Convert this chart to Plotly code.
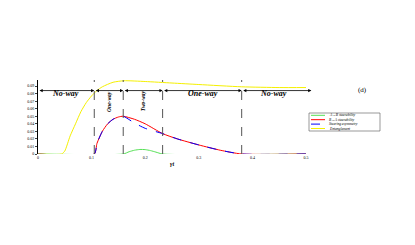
import plotly.graph_objects as go

# ---- data ----
x_ent = [0, 0.044, 0.05, 0.06, 0.07, 0.08, 0.09, 0.10, 0.11, 0.12, 0.14, 0.16, 0.20, 0.25, 0.30, 0.38, 0.45, 0.50]
y_ent = [0, 0, 0.004, 0.024, 0.040, 0.056, 0.068, 0.077, 0.084, 0.089, 0.095, 0.097, 0.096, 0.094, 0.092, 0.089, 0.088, 0.088]

x_ba = [0, 0.105, 0.11, 0.12, 0.13, 0.14, 0.15, 0.159, 0.18, 0.20, 0.2325, 0.26, 0.30, 0.34, 0.38, 0.50]
y_ba = [0, 0, 0.014, 0.030, 0.040, 0.046, 0.049, 0.050, 0.046, 0.040, 0.027, 0.020, 0.012, 0.005, 0.0, 0.0]

x_ab = [0, 0.159, 0.17, 0.18, 0.19, 0.20, 0.21, 0.22, 0.2325, 0.50]
y_ab = [0, 0, 0.003, 0.005, 0.006, 0.0058, 0.0045, 0.0025, 0, 0]

x_asym = [0, 0.105, 0.11, 0.12, 0.13, 0.14, 0.15, 0.159, 0.18, 0.20, 0.2325, 0.26, 0.30, 0.34, 0.38, 0.50]
y_asym = [0, 0, 0.014, 0.030, 0.040, 0.046, 0.049, 0.050, 0.041, 0.034, 0.027, 0.020, 0.012, 0.005, 0.0, 0.0]

boundaries = [0.105, 0.159, 0.2325, 0.38]
region_edges = [0, 0.105, 0.159, 0.2325, 0.38, 0.5]
region_labels = ["No-way", "One-way", "Two-way", "One-way", "No-way"]
region_label_x = [0.052, 0.132, 0.196, 0.307, 0.44]
region_rotated = [False, True, True, False, False]

x_ticks = [0, 0.1, 0.2, 0.3, 0.4, 0.5]
x_ticklabels = ["0", "0.1", "0.2", "0.3", "0.4", "0.5"]
y_ticks = [0, 0.01, 0.02, 0.03, 0.04, 0.05, 0.06, 0.07, 0.08, 0.09]
y_ticklabels = ["0", "0.01", "0.02", "0.03", "0.04", "0.05", "0.06", "0.07", "0.08", "0.09"]

series_names = ["A→B steerability", "B→A steerability", "Steering asymmetry", "Entanglement"]
series_colors = ["#55e055", "red", "blue", "#f5f000"]
series_dash = ["solid", "solid", "dash", "solid"]

SERIF = "Liberation Serif"
W, H = 415, 245
L, R, T, B = 38, 109, 80, 91
pw, ph = W - L - R, H - T - B


def px(xp):
    return (xp - L) / pw


def py(yp):
    return (H - B - yp) / ph


fig = go.Figure()
xs = [x_ab, x_ba, x_asym, x_ent]
ys = [y_ab, y_ba, y_asym, y_ent]
for xv, yv, nm, c, d in zip(xs, ys, series_names, series_colors, series_dash):
    fig.add_trace(go.Scatter(x=xv, y=yv, mode="lines", name=nm, showlegend=False,
                             line=dict(color=c, width=1, dash=d, shape="spline", smoothing=0.6)))

shapes = []
for b in boundaries:
    shapes.append(dict(type="line", xref="x", yref="y", x0=b, x1=b, y0=0, y1=0.098,
                       line=dict(color="#555555", width=1, dash="dash")))
arrow_y = 0.084
annotations = []
for i in range(len(region_edges) - 1):
    x0, x1 = region_edges[i], region_edges[i + 1]
    if i == len(region_edges) - 2:
        x1 = 0.51
    annotations.append(dict(x=x1, y=arrow_y, ax=x0, ay=arrow_y, xref="x", yref="y", axref="x", ayref="y",
                            text="", showarrow=True, arrowhead=2, arrowside="end+start",
                            arrowsize=0.8, arrowwidth=0.8, arrowcolor="black"))
for lbl, lx, rot in zip(region_labels, region_label_x, region_rotated):
    if rot:
        annotations.append(dict(x=lx, y=0.070, xref="x", yref="y", text="<b><i>" + lbl + "</i></b>",
                                showarrow=False, textangle=-90, font=dict(family=SERIF, size=5.5, color="black")))
    else:
        annotations.append(dict(x=lx, y=0.0795, xref="x", yref="y", text="<b><i>" + lbl + "</i></b>",
                                showarrow=False, font=dict(family=SERIF, size=8, color="black")))
annotations.append(dict(x=px(369), y=py(84), xref="paper", yref="paper", text="(d)", showarrow=False,
                        font=dict(family=SERIF, size=7, color="black")))

# manual legend box
shapes.append(dict(type="rect", xref="paper", yref="paper", x0=px(309), x1=px(380), y0=py(131), y1=py(113),
                   line=dict(color="#555555", width=0.6), fillcolor="white"))
row_y = [115.3, 119.7, 124.1, 128.5]
for nm, c, d, ry in zip(series_names, series_colors, series_dash, row_y):
    shapes.append(dict(type="line", xref="paper", yref="paper", x0=px(311), x1=px(325), y0=py(ry), y1=py(ry),
                       line=dict(color=c, width=1, dash=d)))
    annotations.append(dict(x=px(327), y=py(ry), xref="paper", yref="paper", xanchor="left", yanchor="middle",
                            text="<i>" + nm + "</i>", showarrow=False,
                            font=dict(family=SERIF, size=3.6, color="black")))

fig.update_layout(
    width=W, height=H,
    margin=dict(l=L, r=R, t=T, b=B),
    plot_bgcolor="white", paper_bgcolor="white",
    shapes=shapes, annotations=annotations,
    font=dict(family=SERIF, size=4, color="black"),
    showlegend=False,
    xaxis=dict(range=[0, 0.5], tickvals=x_ticks, ticktext=x_ticklabels, showgrid=False, zeroline=False,
               showline=False, ticks="", tickfont=dict(size=4), automargin=False,
               title=dict(text="<b><i>γt</i></b>", font=dict(family=SERIF, size=6), standoff=2)),
    yaxis=dict(range=[0, 0.098], tickvals=y_ticks, ticktext=y_ticklabels, showgrid=False, zeroline=False,
               showline=True, linecolor="black", linewidth=0.8, ticks="outside", ticklen=2,
               tickfont=dict(size=4), automargin=False),
)

fig.write_html("out.html", config={"displayModeBar": False},
               post_script="document.body.style.margin='0';document.body.style.overflow='hidden';")
